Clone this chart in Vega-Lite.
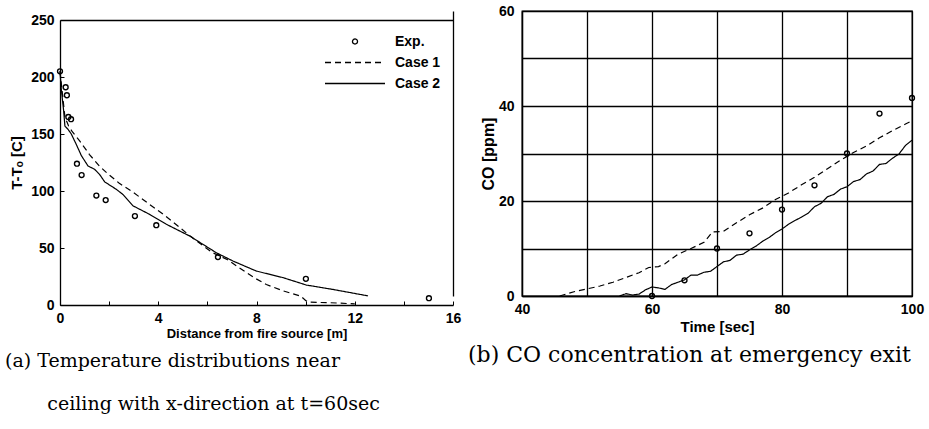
{
  "$schema": "https://vega.github.io/schema/vega-lite/v6.json",
  "autosize": {"type": "pad"},
  "padding": {"left": 5, "top": 3, "right": 2, "bottom": 0},
  "background": "white",
  "config": {
    "view": {"stroke": null},
    "font": "Liberation Sans",
    "axis": {
      "domainColor": "black", "domainWidth": 1.3, "tickColor": "black", "tickWidth": 1,
      "labelColor": "black", "titleColor": "black",
      "gridColor": "black", "gridWidth": 1.3,
      "labelFont": "Liberation Sans", "labelFontSize": 14, "labelFontWeight": "bold",
      "titleFont": "Liberation Sans", "titleFontSize": 14, "titleFontWeight": "bold",
      "labelFlush": false, "labelOverlap": false
    },
    "legend": {"labelColor": "black"}
  },
  "datasets": {
    "temp_exp": [
      {"x": 0, "y": 205, "series": "Exp."},
      {"x": 0.23, "y": 191, "series": "Exp."},
      {"x": 0.28, "y": 184, "series": "Exp."},
      {"x": 0.34, "y": 165, "series": "Exp."},
      {"x": 0.45, "y": 163, "series": "Exp."},
      {"x": 0.69, "y": 124, "series": "Exp."},
      {"x": 0.88, "y": 114, "series": "Exp."},
      {"x": 1.48, "y": 96, "series": "Exp."},
      {"x": 1.86, "y": 92, "series": "Exp."},
      {"x": 3.05, "y": 78, "series": "Exp."},
      {"x": 3.92, "y": 70, "series": "Exp."},
      {"x": 6.43, "y": 42, "series": "Exp."},
      {"x": 10.01, "y": 23, "series": "Exp."},
      {"x": 15.02, "y": 6, "series": "Exp."}
    ],
    "temp_case": [
      {"x": 0, "y": 205, "series": "Case 1"},
      {"x": 0.1, "y": 185, "series": "Case 1"},
      {"x": 0.2, "y": 165, "series": "Case 1"},
      {"x": 0.35, "y": 157, "series": "Case 1"},
      {"x": 0.5, "y": 152, "series": "Case 1"},
      {"x": 0.8, "y": 144, "series": "Case 1"},
      {"x": 1.2, "y": 132, "series": "Case 1"},
      {"x": 1.6, "y": 122, "series": "Case 1"},
      {"x": 1.9, "y": 116, "series": "Case 1"},
      {"x": 2.4, "y": 107, "series": "Case 1"},
      {"x": 3.0, "y": 98.5, "series": "Case 1"},
      {"x": 3.6, "y": 89, "series": "Case 1"},
      {"x": 4.3, "y": 78, "series": "Case 1"},
      {"x": 5.3, "y": 60.5, "series": "Case 1"},
      {"x": 6.2, "y": 46, "series": "Case 1"},
      {"x": 6.8, "y": 40, "series": "Case 1"},
      {"x": 7.3, "y": 32.7, "series": "Case 1"},
      {"x": 7.9, "y": 24, "series": "Case 1"},
      {"x": 8.4, "y": 18, "series": "Case 1"},
      {"x": 9.1, "y": 12.3, "series": "Case 1"},
      {"x": 9.8, "y": 7.8, "series": "Case 1"},
      {"x": 10.0, "y": 4, "series": "Case 1"},
      {"x": 10.1, "y": 2.5, "series": "Case 1"},
      {"x": 11.0, "y": 2, "series": "Case 1"},
      {"x": 12.0, "y": 1, "series": "Case 1"},
      {"x": 0, "y": 205, "series": "Case 2"},
      {"x": 0.05, "y": 190, "series": "Case 2"},
      {"x": 0.15, "y": 170, "series": "Case 2"},
      {"x": 0.2, "y": 157, "series": "Case 2"},
      {"x": 0.33, "y": 154, "series": "Case 2"},
      {"x": 0.46, "y": 150, "series": "Case 2"},
      {"x": 0.66, "y": 141, "series": "Case 2"},
      {"x": 0.87, "y": 131, "series": "Case 2"},
      {"x": 1.14, "y": 122, "series": "Case 2"},
      {"x": 1.41, "y": 119, "series": "Case 2"},
      {"x": 1.61, "y": 114.6, "series": "Case 2"},
      {"x": 1.82, "y": 108, "series": "Case 2"},
      {"x": 2.29, "y": 101.5, "series": "Case 2"},
      {"x": 2.56, "y": 97, "series": "Case 2"},
      {"x": 2.97, "y": 87, "series": "Case 2"},
      {"x": 3.65, "y": 79.5, "series": "Case 2"},
      {"x": 4.33, "y": 70.8, "series": "Case 2"},
      {"x": 5.28, "y": 60.5, "series": "Case 2"},
      {"x": 6.36, "y": 45.9, "series": "Case 2"},
      {"x": 7.04, "y": 38.6, "series": "Case 2"},
      {"x": 7.99, "y": 29.8, "series": "Case 2"},
      {"x": 9.08, "y": 24, "series": "Case 2"},
      {"x": 10.03, "y": 17.5, "series": "Case 2"},
      {"x": 11.1, "y": 13.7, "series": "Case 2"},
      {"x": 12.54, "y": 8, "series": "Case 2"}
    ],
    "co_exp": [
      {"t": 60, "co": 0, "series": "Exp."},
      {"t": 65, "co": 3.3, "series": "Exp."},
      {"t": 70, "co": 10.0, "series": "Exp."},
      {"t": 75, "co": 13.2, "series": "Exp."},
      {"t": 80, "co": 18.2, "series": "Exp."},
      {"t": 85, "co": 23.3, "series": "Exp."},
      {"t": 90, "co": 30.0, "series": "Exp."},
      {"t": 95, "co": 38.4, "series": "Exp."},
      {"t": 100, "co": 41.7, "series": "Exp."}
    ],
    "co_case": [
      {"t": 45.8, "co": 0, "series": "Case 1"},
      {"t": 48, "co": 0.9, "series": "Case 1"},
      {"t": 50, "co": 1.5, "series": "Case 1"},
      {"t": 52, "co": 2.1, "series": "Case 1"},
      {"t": 54, "co": 2.9, "series": "Case 1"},
      {"t": 56, "co": 3.9, "series": "Case 1"},
      {"t": 58, "co": 4.9, "series": "Case 1"},
      {"t": 59.5, "co": 6.0, "series": "Case 1"},
      {"t": 61, "co": 6.2, "series": "Case 1"},
      {"t": 62, "co": 6.8, "series": "Case 1"},
      {"t": 64, "co": 8.8, "series": "Case 1"},
      {"t": 66, "co": 10.0, "series": "Case 1"},
      {"t": 68, "co": 11.3, "series": "Case 1"},
      {"t": 69.3, "co": 13.5, "series": "Case 1"},
      {"t": 71, "co": 13.6, "series": "Case 1"},
      {"t": 73, "co": 15.4, "series": "Case 1"},
      {"t": 75, "co": 17.1, "series": "Case 1"},
      {"t": 77, "co": 18.5, "series": "Case 1"},
      {"t": 79, "co": 20.3, "series": "Case 1"},
      {"t": 81, "co": 21.7, "series": "Case 1"},
      {"t": 83, "co": 23.4, "series": "Case 1"},
      {"t": 85, "co": 25.0, "series": "Case 1"},
      {"t": 87, "co": 26.8, "series": "Case 1"},
      {"t": 89, "co": 28.6, "series": "Case 1"},
      {"t": 91, "co": 30.2, "series": "Case 1"},
      {"t": 93, "co": 31.6, "series": "Case 1"},
      {"t": 95, "co": 33.3, "series": "Case 1"},
      {"t": 97, "co": 34.8, "series": "Case 1"},
      {"t": 99, "co": 36.2, "series": "Case 1"},
      {"t": 100, "co": 36.9, "series": "Case 1"},
      {"t": 55, "co": 0, "series": "Case 2"},
      {"t": 56, "co": 0.5, "series": "Case 2"},
      {"t": 57, "co": 0.2, "series": "Case 2"},
      {"t": 58, "co": 0.4, "series": "Case 2"},
      {"t": 59, "co": 1.3, "series": "Case 2"},
      {"t": 60, "co": 1.9, "series": "Case 2"},
      {"t": 61, "co": 1.7, "series": "Case 2"},
      {"t": 62, "co": 1.4, "series": "Case 2"},
      {"t": 63, "co": 2.4, "series": "Case 2"},
      {"t": 64, "co": 2.9, "series": "Case 2"},
      {"t": 65, "co": 3.4, "series": "Case 2"},
      {"t": 66, "co": 4.4, "series": "Case 2"},
      {"t": 67, "co": 4.4, "series": "Case 2"},
      {"t": 68, "co": 5.0, "series": "Case 2"},
      {"t": 69, "co": 5.2, "series": "Case 2"},
      {"t": 70, "co": 6.2, "series": "Case 2"},
      {"t": 71, "co": 7.2, "series": "Case 2"},
      {"t": 72, "co": 7.5, "series": "Case 2"},
      {"t": 73, "co": 8.6, "series": "Case 2"},
      {"t": 74, "co": 8.8, "series": "Case 2"},
      {"t": 75, "co": 9.7, "series": "Case 2"},
      {"t": 76, "co": 10.5, "series": "Case 2"},
      {"t": 77, "co": 11.5, "series": "Case 2"},
      {"t": 78, "co": 12.3, "series": "Case 2"},
      {"t": 79, "co": 13.3, "series": "Case 2"},
      {"t": 80, "co": 14.1, "series": "Case 2"},
      {"t": 81, "co": 15.1, "series": "Case 2"},
      {"t": 82, "co": 15.9, "series": "Case 2"},
      {"t": 83, "co": 16.6, "series": "Case 2"},
      {"t": 84, "co": 17.4, "series": "Case 2"},
      {"t": 85, "co": 18.8, "series": "Case 2"},
      {"t": 86, "co": 19.5, "series": "Case 2"},
      {"t": 87, "co": 20.9, "series": "Case 2"},
      {"t": 88, "co": 21.4, "series": "Case 2"},
      {"t": 89, "co": 22.5, "series": "Case 2"},
      {"t": 90, "co": 23.0, "series": "Case 2"},
      {"t": 91, "co": 24.1, "series": "Case 2"},
      {"t": 92, "co": 24.5, "series": "Case 2"},
      {"t": 93, "co": 25.7, "series": "Case 2"},
      {"t": 94, "co": 26.3, "series": "Case 2"},
      {"t": 95, "co": 27.7, "series": "Case 2"},
      {"t": 96, "co": 27.9, "series": "Case 2"},
      {"t": 97, "co": 29.0, "series": "Case 2"},
      {"t": 98, "co": 29.9, "series": "Case 2"},
      {"t": 99, "co": 31.7, "series": "Case 2"},
      {"t": 100, "co": 32.8, "series": "Case 2"}
    ]
  },
  "hconcat": [
    {
      "width": 393,
      "height": 294,
      "title": {
        "text": ["(a) Temperature distributions near", "\u200b\u00a0\u00a0\u00a0\u00a0\u00a0\u00a0\u00a0ceiling with x-direction at t=60sec"],
        "orient": "bottom", "anchor": "start", "frame": "group", "dx": -55, "offset": 12,
        "font": "DejaVu Serif", "fontSize": 19, "fontWeight": "normal", "lineHeight": 43, "color": "black"
      },
      "layer": [
        {
          "data": {"name": "temp_case"},
          "mark": {"type": "line", "strokeWidth": 1.2},
          "encoding": {
            "x": {"field": "x", "type": "quantitative", "scale": {"domain": [0, 16], "nice": false},
              "axis": {"orient": "bottom", "values": [0, 2, 4, 6, 8, 10, 12, 14, 16], "labelExpr": "datum.value % 4 === 0 ? datum.label : ''",
                "grid": true, "gridOpacity": {"condition": {"test": "datum.value === 16", "value": 1}, "value": 0},
                "tickSize": -4, "labelPadding": 10, "title": "Distance from fire source [m]", "titleFontSize": 13, "titlePadding": 2}},
            "y": {"field": "y", "type": "quantitative", "scale": {"domain": [0, 250], "range": [294, 9], "nice": false},
              "axis": {"orient": "left", "values": [0, 25, 50, 75, 100, 125, 150, 175, 200, 225, 250], "labelExpr": "datum.value % 50 === 0 ? datum.label : ''",
                "grid": true, "gridOpacity": {"condition": {"test": "datum.value === 250", "value": 1}, "value": 0},
                "tickSize": -4, "labelPadding": 10, "title": "T-T\u2092 [C]", "titleFontSize": 15, "titlePadding": 6}},
            "color": {"field": "series", "type": "nominal",
              "scale": {"domain": ["Exp.", "Case 1", "Case 2"], "range": ["black", "black", "black"]},
              "legend": {"orient": "none", "legendX": 265, "legendY": 23.5, "title": null, "padding": 0,
                "symbolSize": 100, "labelOffset": 56, "rowPadding": 7,
                "labelFont": "Liberation Sans", "labelFontSize": 14, "labelFontWeight": "bold",
                "encode": {"symbols": {"update": {
                  "shape": {"signal": "datum.value === 'Exp.' ? 'M-0.5,0A0.5,0.5,0,1,1,0.5,0A0.5,0.5,0,1,1,-0.5,0Z' : 'M-6,0H6'"},
                  "strokeDash": {"signal": "datum.value === 'Case 1' ? [6, 4] : [1, 0]"},
                  "x": {"value": 30},
                  "stroke": {"value": "black"}, "strokeWidth": {"value": 1.3},
                  "fill": {"value": "transparent"}, "opacity": {"value": 1}
                }}}}},
            "strokeDash": {"field": "series", "type": "nominal",
              "scale": {"domain": ["Case 1", "Case 2"], "range": [[6, 4], [1, 0]]}, "legend": null}
          }
        },
        {
          "data": {"name": "temp_exp"},
          "mark": {"type": "point", "shape": "circle", "filled": false, "size": 24, "strokeWidth": 1.4, "opacity": 1},
          "encoding": {
            "x": {"field": "x", "type": "quantitative", "scale": {"domain": [0, 16], "nice": false}},
            "y": {"field": "y", "type": "quantitative", "scale": {"domain": [0, 250], "range": [294, 9], "nice": false}},
            "color": {"field": "series", "type": "nominal"}
          }
        }
      ]
    },
    {
      "width": 390,
      "height": 285,
      "view": {"stroke": "black", "strokeWidth": 1.3},
      "title": {
        "text": "(b) CO concentration at emergency exit",
        "orient": "bottom", "anchor": "start", "frame": "group", "dx": -54, "offset": 11,
        "font": "DejaVu Serif", "fontSize": 22, "fontWeight": "normal", "color": "black"
      },
      "layer": [
        {
          "data": {"name": "co_case"},
          "mark": {"type": "line", "strokeWidth": 1.2},
          "encoding": {
            "x": {"field": "t", "type": "quantitative", "scale": {"domain": [40, 100], "nice": false},
              "axis": {"orient": "bottom", "values": [40, 50, 60, 70, 80, 90, 100], "labelExpr": "datum.value % 20 === 0 ? datum.label : ''",
                "tickSize": -4, "labelPadding": 10, "title": "Time [sec]", "titleFontSize": 15, "titlePadding": 3}},
            "y": {"field": "co", "type": "quantitative", "scale": {"domain": [0, 60], "nice": false},
              "axis": {"orient": "left", "values": [0, 10, 20, 30, 40, 50, 60], "labelExpr": "datum.value % 20 === 0 ? datum.label : ''",
                "tickSize": -4, "labelPadding": 12, "title": "CO [ppm]", "titleFontSize": 16, "titlePadding": 2}},
            "color": {"field": "series", "type": "nominal",
              "scale": {"domain": ["Exp.", "Case 1", "Case 2"], "range": ["black", "black", "black"]},
              "legend": {"orient": "none", "legendX": 25, "legendY": 28.5, "title": null, "padding": 0,
                "symbolSize": 100, "labelOffset": 55, "rowPadding": 7,
                "labelFont": "Liberation Sans", "labelFontSize": 14, "labelFontWeight": "bold",
                "encode": {"symbols": {"update": {
                  "shape": {"signal": "datum.value === 'Exp.' ? 'M-0.5,0A0.5,0.5,0,1,1,0.5,0A0.5,0.5,0,1,1,-0.5,0Z' : 'M-6,0H6'"},
                  "strokeDash": {"signal": "datum.value === 'Case 1' ? [6, 4] : [1, 0]"},
                  "x": {"value": 30},
                  "stroke": {"value": "black"}, "strokeWidth": {"value": 1.3},
                  "fill": {"value": "transparent"}, "opacity": {"value": 1}
                }}}}},
            "strokeDash": {"field": "series", "type": "nominal",
              "scale": {"domain": ["Case 1", "Case 2"], "range": [[6, 4], [1, 0]]}, "legend": null}
          }
        },
        {
          "data": {"name": "co_exp"},
          "mark": {"type": "point", "shape": "circle", "filled": false, "size": 24, "strokeWidth": 1.4, "opacity": 1},
          "encoding": {
            "x": {"field": "t", "type": "quantitative", "scale": {"domain": [40, 100], "nice": false}},
            "y": {"field": "co", "type": "quantitative", "scale": {"domain": [0, 60], "nice": false}},
            "color": {"field": "series", "type": "nominal"}
          }
        }
      ]
    }
  ],
  "spacing": 69,
  "bounds": "flush"
}
